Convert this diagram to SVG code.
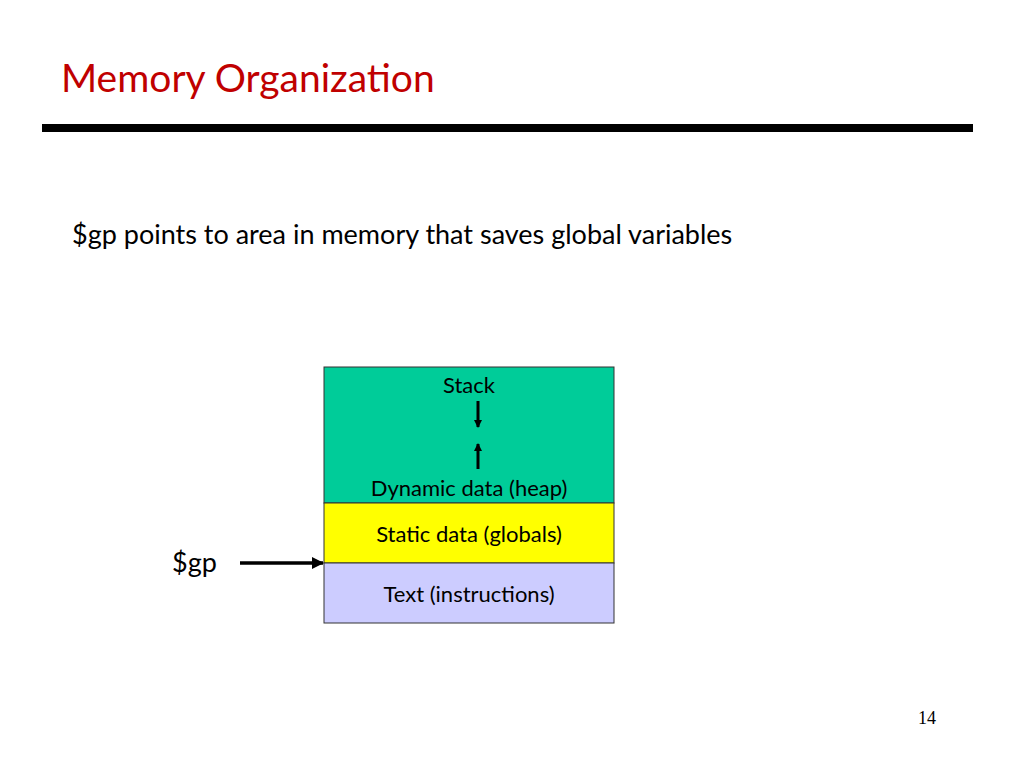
<svg xmlns="http://www.w3.org/2000/svg" width="1024" height="768" viewBox="0 0 1024 768">
<style>
text{font-family:Lato,"Open Sans",sans-serif;fill:#000}
.b{stroke:#333;stroke-width:1}
.m{font-size:22px;text-anchor:middle}
</style>
<defs><marker id="ah" markerWidth="8" markerHeight="8" refX="7" refY="4" orient="auto" markerUnits="userSpaceOnUse" viewBox="0 0 8 8"><path d="M0,0 L8,4 L0,8 Z" fill="#000"/></marker>
<marker id="ah2" markerWidth="12" markerHeight="12" refX="11" refY="6" orient="auto" markerUnits="userSpaceOnUse" viewBox="0 0 12 12"><path d="M0,0 L12,6 L0,12 Z" fill="#000"/></marker></defs>
<rect width="1024" height="768" fill="#fff"/>
<text x="61" y="92" style="font-size:39px;fill:#c00000">Memory Organization</text>
<rect x="42" y="124" width="931" height="8" fill="#000"/>
<text x="72" y="244" style="font-size:27px">$gp points to area in memory that saves global variables</text>
<g id="heap"><rect class="b" x="324" y="367" width="290" height="136" fill="#00cc99"/>
<text class="m" x="469" y="393">Stack</text><text class="m" x="469" y="496">Dynamic data (heap)</text></g>
<g id="static"><rect class="b" x="324" y="503" width="290" height="60" fill="#ffff00"/><text class="m" x="469" y="542">Static data (globals)</text></g>
<g id="text"><rect class="b" x="324" y="563" width="290" height="60" fill="#ccccff"/><text class="m" x="469" y="602">Text (instructions)</text></g>
<g id="gp"><text x="172" y="572" style="font-size:27px">$gp</text></g>
<g id="connectors" stroke="#000">
<line x1="478" y1="401" x2="478" y2="427" stroke-width="3" marker-end="url(#ah)"/>
<line x1="478" y1="469" x2="478" y2="444" stroke-width="3" marker-end="url(#ah)"/>
<line x1="240" y1="563" x2="323" y2="563" stroke-width="3.5" marker-end="url(#ah2)"/>
</g>
<text x="927" y="724" style="font-family:'Liberation Serif',serif;font-size:18px;text-anchor:middle">14</text>
</svg>
